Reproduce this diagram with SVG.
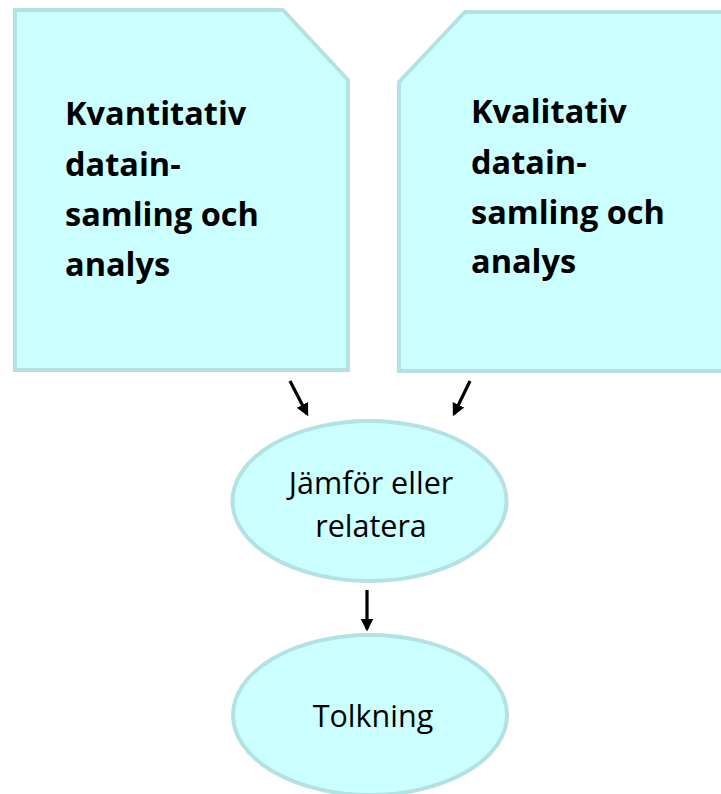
<svg xmlns="http://www.w3.org/2000/svg" width="721" height="794" viewBox="0 0 721 794">
<style>
.shape{fill:#ccffff;stroke:#b4e2e2;stroke-width:4}
.big{font-family:"Open Sans","Liberation Sans",sans-serif;font-weight:bold;font-size:32.5px;fill:#000}
.lbl{font-family:"Open Sans","Liberation Sans",sans-serif;font-size:30.5px;fill:#000;text-anchor:middle}
.conn{stroke:#000;stroke-width:3.2;fill:none;marker-end:url(#ah)}
</style>
<defs>
<marker id="ah" viewBox="0 0 10 10" refX="8" refY="5" markerWidth="4" markerHeight="4" orient="auto" markerUnits="strokeWidth">
<path d="M0,0 L10,5 L0,10 z" fill="#000"/>
</marker>
</defs>
<rect width="721" height="794" fill="#fff"/>
<g id="kvantitativ">
<polygon class="shape" points="15,10 283,10 348,80 348,370 15,370"/>
<text class="big" x="65"><tspan x="65" y="125">Kvantitativ</tspan><tspan x="65" y="176">datain-</tspan><tspan x="65" y="226">samling och</tspan><tspan x="65" y="276">analys</tspan></text>
</g>
<g id="kvalitativ">
<polygon class="shape" points="399,82 465,12 726,12 726,371 399,371"/>
<text class="big" x="471"><tspan x="471" y="123">Kvalitativ</tspan><tspan x="471" y="174">datain-</tspan><tspan x="471" y="224">samling och</tspan><tspan x="471" y="273">analys</tspan></text>
</g>
<g id="jamfor">
<ellipse class="shape" cx="369.5" cy="501" rx="137" ry="80"/>
<text class="lbl" x="371"><tspan x="371" y="494">Jämför eller</tspan><tspan x="371" y="537">relatera</tspan></text>
</g>
<g id="tolkning">
<ellipse class="shape" cx="370" cy="715" rx="137" ry="80"/>
<text class="lbl" x="373" y="727">Tolkning</text>
</g>
<g id="connectors">
<line class="conn" x1="290" y1="381" x2="307" y2="414"/>
<line class="conn" x1="470" y1="381" x2="454" y2="414"/>
<line class="conn" x1="367" y1="590" x2="367" y2="629"/>
</g>
</svg>
